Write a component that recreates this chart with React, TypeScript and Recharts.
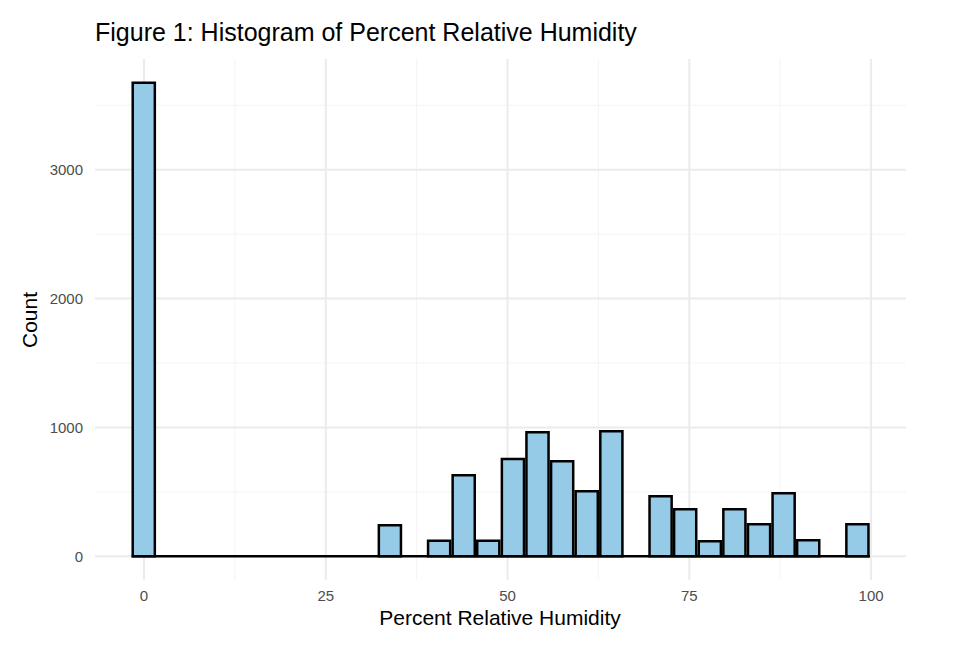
import React from "react";
import { ComposedChart, Bar, XAxis, YAxis, CartesianGrid, ReferenceLine } from "recharts";

const binCenters = [0, 3.38, 6.77, 10.15, 13.54, 16.92, 20.31, 23.69, 27.08, 30.46, 33.85, 37.23, 40.62, 44.0, 47.38, 50.77, 54.15, 57.54, 60.92, 64.31, 67.69, 71.08, 74.46, 77.85, 81.23, 84.62, 88.0, 91.38, 94.77, 98.15];
const counts = [3675, 0, 0, 0, 0, 0, 0, 0, 0, 0, 240, 0, 120, 629, 120, 754, 963, 738, 505, 971, 0, 466, 365, 117, 365, 249, 490, 124, 0, 249];
const xTicks = [0, 25, 50, 75, 100];
const yTicks = [0, 1000, 2000, 3000];
const xMinor = [12.5, 37.5, 62.5, 87.5];
const yMinor = [500, 1500, 2500, 3500];

const data = binCenters.map((x, i) => ({ x, count: counts[i] }));
const font = "'Liberation Sans', Arial, sans-serif";

export default function App() {
  return (
    <div style={{ position: "absolute", left: 0, top: 0, width: 978, height: 664, background: "#fff", fontFamily: font }}>
      <div style={{ position: "absolute", left: 95, top: 18, fontSize: 25, color: "#000", whiteSpace: "nowrap" }}>
        Figure 1: Histogram of Percent Relative Humidity
      </div>
      <div style={{ position: "absolute", left: 0, top: 606, width: 1000, textAlign: "center", fontSize: 21, color: "#000" }}>
        Percent Relative Humidity
      </div>
      <div style={{ position: "absolute", left: 30, top: 320, fontSize: 21, transform: "translate(-50%,-50%) rotate(-90deg)", color: "#000" }}>
        Count
      </div>
      <ComposedChart width={978} height={664} data={data} margin={{ top: 59, right: 72, bottom: 0, left: 0 }}>
        <CartesianGrid stroke="#f3f3f3" strokeWidth={0.9} horizontalValues={yMinor} verticalValues={xMinor} />
        <CartesianGrid stroke="#ebebeb" strokeWidth={2} horizontalValues={yTicks} verticalValues={xTicks} />
        <XAxis
          dataKey="x"
          type="number"
          domain={[-6.74, 104.8]}
          ticks={xTicks}
          axisLine={false}
          tickLine={false}
          height={84}
          tickMargin={4}
          tick={{ fill: "#4d4d4d", fontSize: 15, fontFamily: font }}
        />
        <YAxis
          type="number"
          domain={[-184, 3859]}
          ticks={yTicks}
          axisLine={false}
          tickLine={false}
          width={95}
          tickMargin={6}
          tick={{ fill: "#4d4d4d", fontSize: 15, fontFamily: font }}
        />
        <ReferenceLine
          segment={[{ x: -1.69, y: 0 }, { x: 99.84, y: 0 }]}
          stroke="#000"
          strokeWidth={2.5}
        />
        <Bar dataKey="count" fill="#95cbe7" stroke="#000" strokeWidth={2.5} barSize={24.8} isAnimationActive={false} />
      </ComposedChart>
    </div>
  );
}
